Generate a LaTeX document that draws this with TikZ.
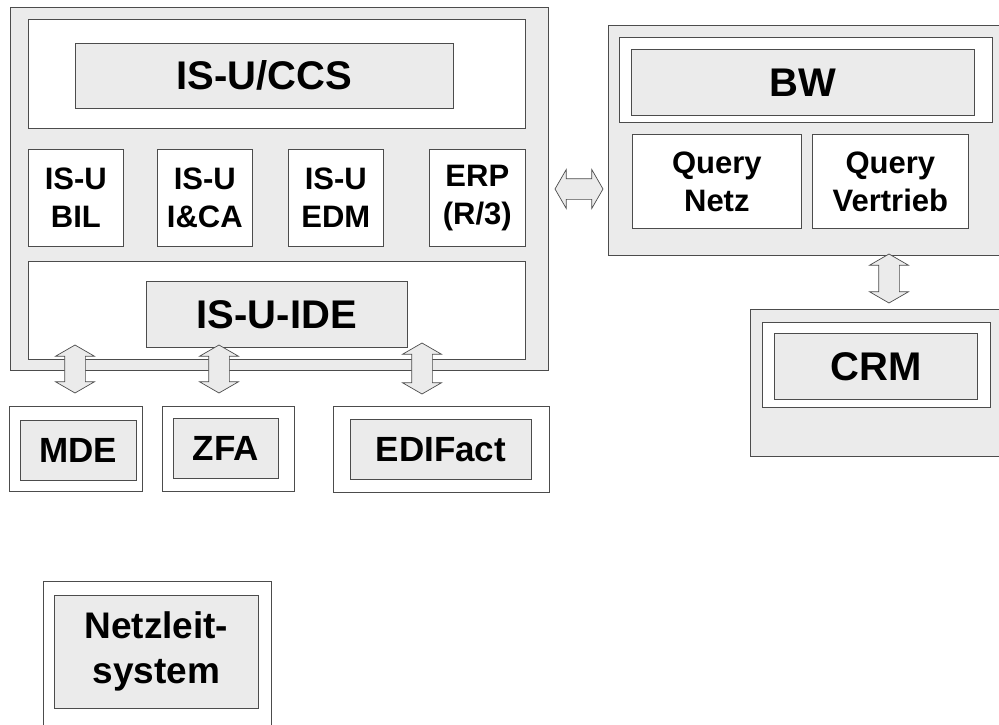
\documentclass[tikz,border=0pt]{standalone}
\usepackage{fontspec}
\setmainfont{Liberation Sans}
\usetikzlibrary{shapes}

\begin{document}
\begin{tikzpicture}[x=1pt,y=-1pt,
  rim/.style={draw=black!70, line width=0.7pt, inner sep=0pt, anchor=north west, align=center},
  grey/.style={rim, fill=black!8},
  blank/.style={rim, fill=white},
  sz/.style 2 args={minimum width=#1pt, minimum height=#2pt},
  big/.style={font=\fontsize{40}{46}\selectfont\bfseries},
  mid/.style={font=\fontsize{35}{42}\selectfont\bfseries},
  small/.style={font=\fontsize{31}{38}\selectfont\bfseries},
  link/.style={double arrow, draw=black!70, fill=black!8, line width=0.7pt,
    minimum width=38pt, minimum height=48pt, inner sep=10pt,
    double arrow head extend=9pt, double arrow tip angle=120}]
\useasboundingbox (0,0) rectangle (999,725);
\node[grey, sz={538}{363}] (isu) at (10,7) {};
\node[blank, sz={497}{109}] (ccsframe) at (28,19) {};
\node[grey, sz={378}{65}, big] (ccs) at (75,43) {IS-U/CCS};
\node[blank, sz={95}{97}, small] (bil) at (28,149) {IS-U\\BIL};
\node[blank, sz={95}{97}, small] (ica) at (157,149) {IS-U\\I\&CA};
\node[blank, sz={95}{97}, small] (edm) at (288,149) {IS-U\\EDM};
\node[blank, sz={96}{97}, small] (erp) at (429,149) {ERP\\(R/3)};
\node[blank, sz={497}{98}] (ideframe) at (28,261) {};
\node[grey, sz={261}{66}, big] (ide) at (146,281) {IS-U-IDE};
\node[blank, sz={133}{85}] (mdeframe) at (9,406) {};
\node[grey, sz={116}{60}, mid] (mde) at (20,420) {MDE};
\node[blank, sz={132}{85}] (zfaframe) at (162,406) {};
\node[grey, sz={105}{60}, mid] (zfa) at (173,418) {ZFA};
\node[blank, sz={216}{86}] (ediframe) at (333,406) {};
\node[grey, sz={181}{60}, mid] (edi) at (350,419) {EDIFact};
\node[grey, sz={395}{230}] (bwouter) at (608,25) {};
\node[blank, sz={373}{85}] (bwframe) at (619,37) {};
\node[grey, sz={343}{66}, big] (bw) at (631,49) {BW};
\node[blank, sz={169}{94}, small] (qnetz) at (632,134) {Query\\Netz};
\node[blank, sz={156}{94}, small] (qvertrieb) at (812,134) {Query\\Vertrieb};
\node[grey, sz={253}{147}] (crmouter) at (750,309) {};
\node[blank, sz={228}{85}] (crmframe) at (762,322) {};
\node[grey, sz={203}{66}, big] (crm) at (774,333) {CRM};
\node[blank, sz={228}{150}] (nlsframe) at (43,581) {};
\node[grey, sz={204}{113}, font=\fontsize{37}{45}\selectfont\bfseries] (nls) at (54,595) {Netzleit-\\system};
\node[link] (isubw) at (579,189) {};
\node[link, shape border rotate=90] (idemde) at (75,369) {};
\node[link, shape border rotate=90] (idezfa) at (219,369) {};
\node[link, shape border rotate=90, minimum height=51pt] (ideedi) at (422,368.5) {};
\node[link, shape border rotate=90, minimum height=49pt] (bwcrm) at (889,278.5) {};
\end{tikzpicture}
\end{document}
